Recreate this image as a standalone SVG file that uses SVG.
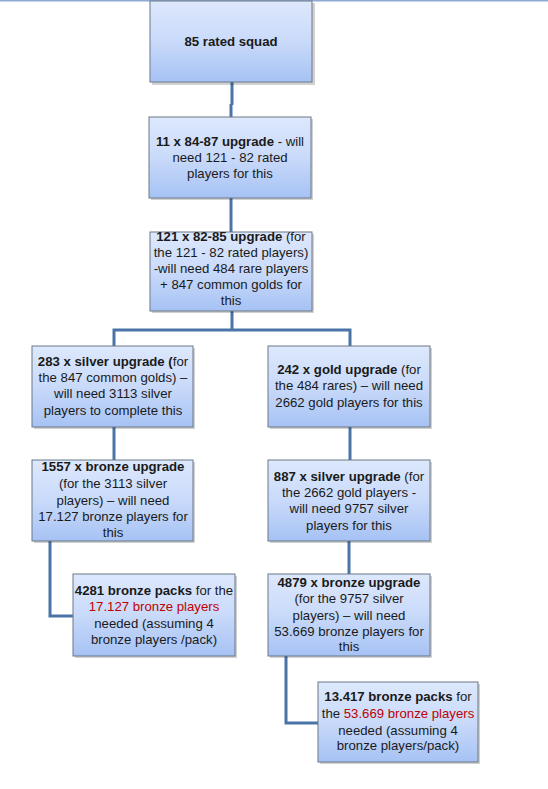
<svg xmlns="http://www.w3.org/2000/svg" width="548" height="789" viewBox="0 0 548 789">
<defs>
<linearGradient id="g" x1="0" y1="0" x2="0" y2="1">
<stop offset="0" stop-color="#dde8fc"/>
<stop offset="0.5" stop-color="#c9dafa"/>
<stop offset="1" stop-color="#a6c2f4"/>
</linearGradient>
</defs>
<style>
.box{fill:url(#g);stroke:#6a7888;stroke-width:1}
.sh{fill:#000;opacity:0.18}
.t{font-family:"Liberation Sans",Arial,sans-serif;font-size:13.2px;fill:#1a1a1a;text-anchor:middle}
.b{font-weight:bold}
.r{fill:#c00000}
.c{fill:none;stroke:#4a74a8;stroke-width:3}
</style>
<rect width="548" height="789" fill="#ffffff"/>
<line x1="0" y1="0.5" x2="548" y2="0.5" stroke="#8eaad3" stroke-width="2"/>
<g id="connectors">
<path class="c" d="M232 82 V105 M231 104 V117"/>
<path class="c" d="M231 198 V232"/>
<path class="c" d="M232 311 V330 M114 346 V330 H350 V346"/>
<path class="c" d="M114 427 V460"/>
<path class="c" d="M350 427 V460"/>
<path class="c" d="M50 541 V616 H73"/>
<path class="c" d="M349 541 V574"/>
<path class="c" d="M286 656 V723 H318"/>
</g>
<g id="n1">
<rect class="sh" x="152" y="3" width="163" height="82"/>
<rect class="box" x="150" y="1" width="162" height="81"/>
<text class="t b" x="231" y="46">85 rated squad</text>
</g>
<g id="n2">
<rect class="sh" x="151" y="119" width="162" height="81"/>
<rect class="box" x="149" y="117" width="162" height="81"/>
<text class="t" x="230" y="146"><tspan class="b">11 x 84-87 upgrade</tspan> - will</text>
<text class="t" x="230" y="162">need 121 - 82 rated</text>
<text class="t" x="230" y="178">players for this</text>
</g>
<g id="n3">
<rect class="sh" x="152" y="234" width="162" height="79"/>
<rect class="box" x="150" y="232" width="162" height="79"/>
<text class="t" x="231" y="241"><tspan class="b">121 x 82-85 upgrade</tspan> (for</text>
<text class="t" x="231" y="257">the 121 - 82 rated players)</text>
<text class="t" x="231" y="273">-will need 484 rare players</text>
<text class="t" x="231" y="289">+ 847 common golds for</text>
<text class="t" x="231" y="305">this</text>
</g>
<g id="n4">
<rect class="sh" x="34" y="348" width="161" height="81"/>
<rect class="box" x="32" y="346" width="161" height="81"/>
<text class="t" x="113" y="366"><tspan class="b">283 x silver upgrade (</tspan>for</text>
<text class="t" x="113" y="382">the 847 common golds) –</text>
<text class="t" x="113" y="398">will need 3113 silver</text>
<text class="t" x="113" y="415">players to complete this</text>
</g>
<g id="n5">
<rect class="sh" x="34" y="462" width="161" height="81"/>
<rect class="box" x="32" y="460" width="161" height="81"/>
<text class="t b" x="113" y="471">1557 x bronze upgrade</text>
<text class="t" x="113" y="488">(for the 3113 silver</text>
<text class="t" x="113" y="505">players) – will need</text>
<text class="t" x="113" y="521">17.127 bronze players for</text>
<text class="t" x="113" y="537">this</text>
</g>
<g id="n6">
<rect class="sh" x="75" y="576" width="162" height="82"/>
<rect class="box" x="73" y="574" width="162" height="82"/>
<text class="t" x="154" y="595"><tspan class="b">4281 bronze packs</tspan> for the</text>
<text class="t r" x="154" y="611">17.127 bronze players</text>
<text class="t" x="154" y="628">needed (assuming 4</text>
<text class="t" x="154" y="644">bronze players /pack)</text>
</g>
<g id="n7">
<rect class="sh" x="270" y="348" width="162" height="81"/>
<rect class="box" x="268" y="346" width="162" height="81"/>
<text class="t" x="349" y="374"><tspan class="b">242 x gold upgrade</tspan> (for</text>
<text class="t" x="349" y="390">the 484 rares) – will need</text>
<text class="t" x="349" y="407">2662 gold players for this</text>
</g>
<g id="n8">
<rect class="sh" x="270" y="462" width="162" height="81"/>
<rect class="box" x="268" y="460" width="162" height="81"/>
<text class="t" x="349" y="481"><tspan class="b">887 x silver upgrade</tspan> (for</text>
<text class="t" x="349" y="497">the 2662 gold players -</text>
<text class="t" x="349" y="513">will need 9757 silver</text>
<text class="t" x="349" y="530">players for this</text>
</g>
<g id="n9">
<rect class="sh" x="270" y="576" width="162" height="82"/>
<rect class="box" x="268" y="574" width="162" height="82"/>
<text class="t b" x="349" y="587">4879 x bronze upgrade</text>
<text class="t" x="349" y="603">(for the 9757 silver</text>
<text class="t" x="349" y="620">players) – will need</text>
<text class="t" x="349" y="636">53.669 bronze players for</text>
<text class="t" x="349" y="651">this</text>
</g>
<g id="n10">
<rect class="sh" x="320" y="684" width="160" height="80"/>
<rect class="box" x="318" y="682" width="160" height="80"/>
<text class="t" x="398" y="701"><tspan class="b">13.417 bronze packs</tspan> for</text>
<text class="t" x="398" y="718">the <tspan class="r">53.669 bronze players</tspan></text>
<text class="t" x="398" y="735">needed (assuming 4</text>
<text class="t" x="398" y="750">bronze players/pack)</text>
</g>
</svg>
